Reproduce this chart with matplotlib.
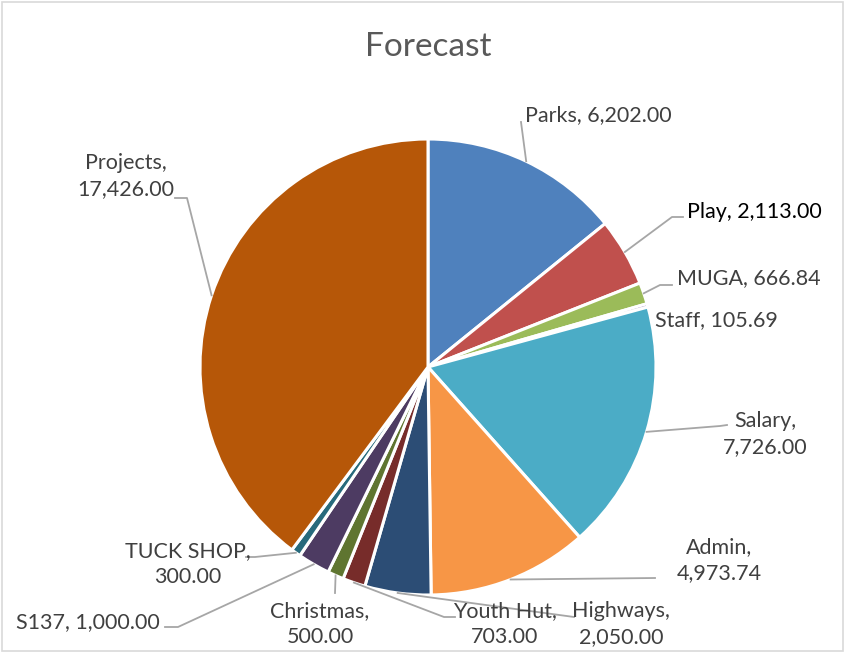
import matplotlib.pyplot as plt
import matplotlib.patches as patches
import numpy as np

# data
categories = ['Parks', 'Play', 'MUGA', 'Staff', 'Salary', 'Admin', 'Highways',
              'Youth Hut', 'Christmas', 'S137', 'TUCK SHOP', 'Projects']
values = [6202.00, 2113.00, 666.84, 105.69, 7726.00, 4973.74, 2050.00,
          703.00, 500.00, 1000.00, 300.00, 17426.00]
colors = ['#4F81BD', '#C0504D', '#9BBB59', '#8064A2', '#4BACC6', '#F79646',
          '#2C4D75', '#772C2A', '#5F7530', '#4D3B62', '#276A7C', '#B65708']

W, H = 845, 652
cx, cy, R = 428, H - 367, 228

# label layout in pixel coords (x, y from top), text alignment, elbow points
label_layout = {
    'Parks':     dict(xy=(525, 115), ha='left', two_lines=False, elbow=[(521, 122)]),
    'Play':      dict(xy=(687, 212), ha='left', two_lines=False, elbow=[(672, 217), (683, 217)]),
    'MUGA':      dict(xy=(677, 278), ha='left', two_lines=False, elbow=[(660, 285), (672, 285)]),
    'Staff':     dict(xy=(655, 320), ha='left', two_lines=False, elbow=[]),
    'Salary':    dict(xy=(765, 434), ha='center', two_lines=True, elbow=[(720, 426), (727, 425)]),
    'Admin':     dict(xy=(719, 560), ha='center', two_lines=True, elbow=[(655, 578)]),
    'Highways':  dict(xy=(621, 624), ha='center', two_lines=True, elbow=[(574, 617)]),
    'Youth Hut': dict(xy=(505, 624), ha='center', two_lines=True, elbow=[(444, 617), (455, 617)]),
    'Christmas': dict(xy=(320, 624), ha='center', two_lines=True, elbow=[(335, 593)]),
    'S137':      dict(xy=(88, 622), ha='center', two_lines=False, elbow=[(178, 627), (165, 627)]),
    'TUCK SHOP': dict(xy=(188, 564), ha='center', two_lines=True, elbow=[(255, 557), (246, 557)]),
    'Projects':  dict(xy=(126, 176), ha='center', two_lines=True, elbow=[(187, 198), (175, 198)]),
}

plt.rcParams['font.family'] = ['Lato', 'DejaVu Sans']

fig = plt.figure(figsize=(W / 100, H / 100), dpi=100)
ax = fig.add_axes([0, 0, 1, 1])

# chart border
fig.patches.append(patches.Rectangle((2 / W, 1 / H), (W - 4) / W, (H - 3) / H,
                                     transform=fig.transFigure, fill=False,
                                     edgecolor='#D9D9D9', linewidth=1.2))

wedges, _ = ax.pie(values, colors=colors, startangle=90, counterclock=False,
                   center=(cx, cy), radius=R, frame=True,
                   wedgeprops=dict(edgecolor='white', linewidth=2.2))
ax.set_xlim(0, W)
ax.set_ylim(0, H)
ax.set_aspect('equal')
ax.axis('off')

ax.text(428, H - 47, 'Forecast', ha='center', va='center', fontsize=24,
        color='#595959')

for w, name, val in zip(wedges, categories, values):
    lay = label_layout[name]
    mid = np.deg2rad((w.theta1 + w.theta2) / 2)
    ex, ey = cx + R * np.cos(mid), cy + R * np.sin(mid)
    if lay['elbow']:
        pts = [(ex, ey)] + [(px, H - py) for px, py in lay['elbow']]
        xs, ys = zip(*pts)
        ax.plot(xs, ys, color='#A6A6A6', linewidth=1.3, zorder=1)
    sep = '\n' if lay['two_lines'] else ' '
    txt = f'{name},{sep}{val:,.2f}'
    tcol = '#000000' if name == 'Play' else '#404040'
    ax.text(lay['xy'][0], H - lay['xy'][1], txt, ha=lay['ha'], va='center',
            multialignment='center', fontsize=15.5, color=tcol, linespacing=1.4)

fig.savefig('out.png', dpi=100)
